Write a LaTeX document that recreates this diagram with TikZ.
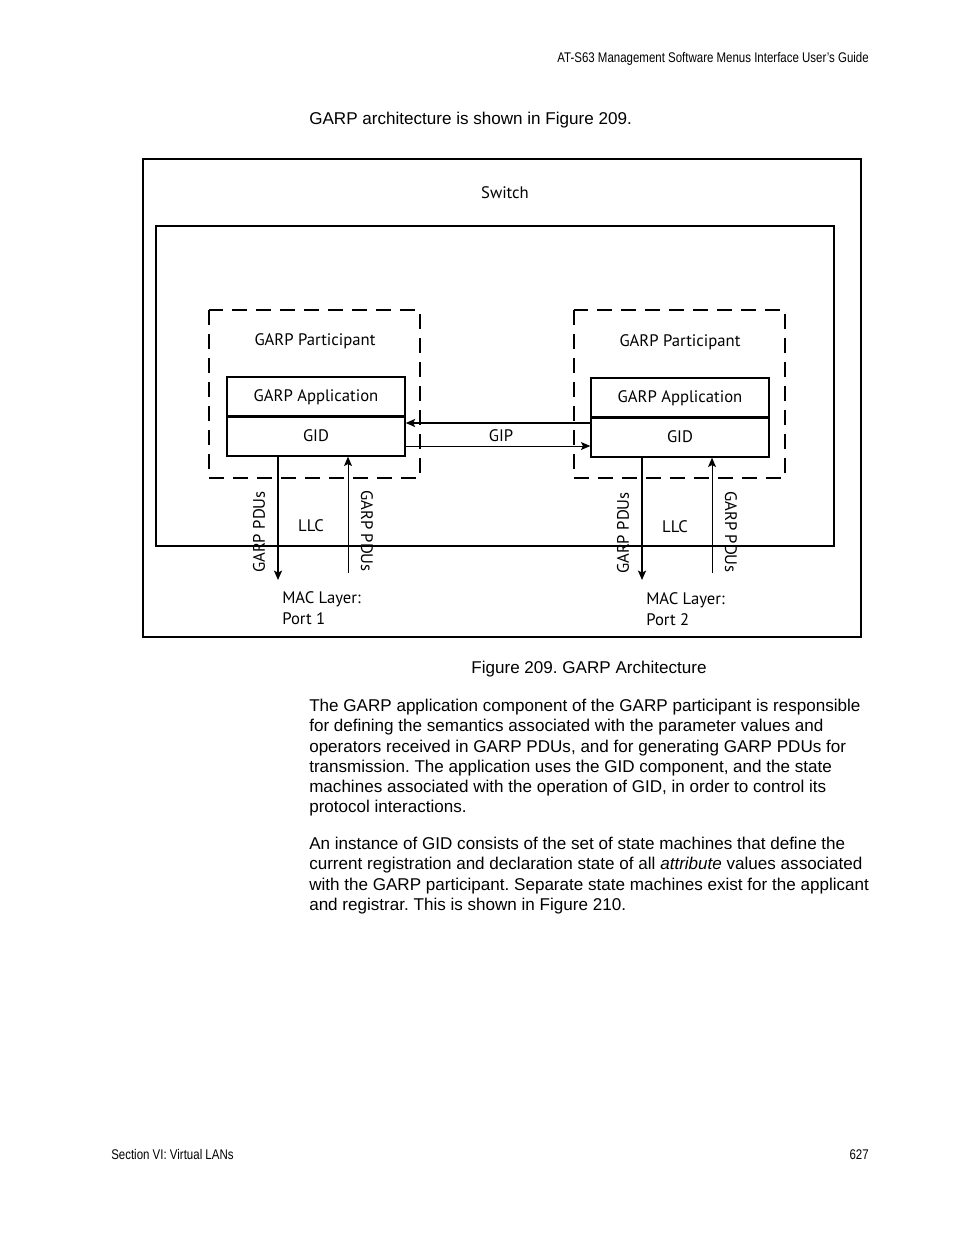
\documentclass[tikz,border=0pt]{standalone}
\usepackage{fontspec}
\setmainfont{Liberation Sans}
\newfontfamily\narrowfont[FakeStretch=0.82]{Liberation Sans}
\newfontfamily\figfont{PT Sans}
\usetikzlibrary{arrows.meta, positioning}
\frenchspacing

\begin{document}
\begin{tikzpicture}[x=0.75pt, y=-0.75pt,
  frame/.style={draw, line width=1.1pt},
  partbox/.style={draw, line width=0.9pt, dash pattern=on 11pt off 7pt},
  layerbox/.style={draw, line width=1.1pt, minimum width=133.5pt, minimum height=30pt,
    inner sep=0pt, font=\figfont\fontsize{12.5}{14}\selectfont},
  figlabel/.style={inner sep=0pt, font=\figfont\fontsize{12.5}{14}\selectfont},
  maclabel/.style={inner sep=0pt, align=left, anchor=north west,
    font=\figfont\fontsize{12.5}{15.75}\selectfont},
  tip/.style={-{Stealth[length=7pt,width=6pt,inset=1.5pt]}},
  bodytext/.style={inner sep=0pt, align=left, anchor=north west,
    font=\fontsize{12.8}{15.2}\selectfont},
  pagemark/.style={inner sep=0pt, font=\narrowfont\fontsize{10.5}{12}\selectfont},
]
\useasboundingbox (0,0) rectangle (954,1235);

% header and lead-in
\node[pagemark, anchor=base east] (header) at (869,62) {AT-S63 Management Software Menus Interface User’s Guide};
\node[bodytext, anchor=west] (intro) at (309,120) {GARP architecture is shown in Figure 209.};

% switch frames
\draw[frame] (143,159) rectangle (861,637);
\draw[frame] (156,226) rectangle (834,546);
\node[figlabel] (switch) at (505,193) {Switch};

% participants
\draw[partbox] (209,310) rectangle (420,478);
\draw[partbox] (574,310) rectangle (785,478);
\node[figlabel] (partL) at (315,341) {GARP Participant};
\node[figlabel] (partR) at (680,342) {GARP Participant};

\node[layerbox] (appL) at (316,397) {GARP Application};
\node[layerbox] (gidL) at (316,436) {GID};
\node[layerbox] (appR) at (680,398) {GARP Application};
\node[layerbox] (gidR) at (680,437) {GID};

% GIP between the two GIDs
\coordinate (gipTop) at (0,423);
\coordinate (gipBot) at (0,446);
\draw[tip, line width=1.4pt] (gidR.west |- gipTop) -- (gidL.east |- gipTop);
\draw[tip, line width=0.7pt] (gidL.east |- gipBot) -- (gidR.west |- gipBot);
\node[figlabel] (gip) at (501,436) {GIP};

% PDUs to and from the MAC layer
\coordinate (outL) at (278,580);
\coordinate (inL) at (348,573);
\coordinate (outR) at (642,580);
\coordinate (inR) at (712,573);
\draw[tip, line width=1.4pt] (gidL.south -| outL) -- (outL);
\draw[tip, line width=0.7pt] (inL) -- (inL |- gidL.south);
\draw[tip, line width=1.4pt] (gidR.south -| outR) -- (outR);
\draw[tip, line width=0.7pt] (inR) -- (inR |- gidR.south);

\node[figlabel, rotate=90] (pduOutL) at (259,532) {GARP PDUs};
\node[figlabel, rotate=-90] (pduInL) at (367,531) {GARP PDUs};
\node[figlabel, rotate=90] (pduOutR) at (623,533) {GARP PDUs};
\node[figlabel, rotate=-90] (pduInR) at (731,532) {GARP PDUs};
\node[figlabel] (llcL) at (311,526) {LLC};
\node[figlabel] (llcR) at (675,527) {LLC};

\node[maclabel] (macL) at (282,591) {MAC Layer:\\Port 1};
\node[maclabel] (macR) at (646,592) {MAC Layer:\\Port 2};

% caption and body
\node[bodytext, anchor=center] (caption) at (589,669) {Figure 209. GARP Architecture};
\node[bodytext] (para1) at (309,699) {The GARP application component of the GARP participant is responsible\\
for defining the semantics associated with the parameter values and\\
operators received in GARP PDUs, and for generating GARP PDUs for\\
transmission. The application uses the GID component, and the state\\
machines associated with the operation of GID, in order to control its\\
protocol interactions.};
\node[bodytext] (para2) at (309,837) {An instance of GID consists of the set of state machines that define the\\
current registration and declaration state of all \textit{attribute} values associated\\
with the GARP participant. Separate state machines exist for the applicant\\
and registrar. This is shown in Figure 210.};

% footer
\node[pagemark, anchor=base west] (footer) at (111,1159) {Section VI: Virtual LANs};
\node[pagemark, anchor=base east] (pageno) at (869,1159) {627};
\end{tikzpicture}
\end{document}
